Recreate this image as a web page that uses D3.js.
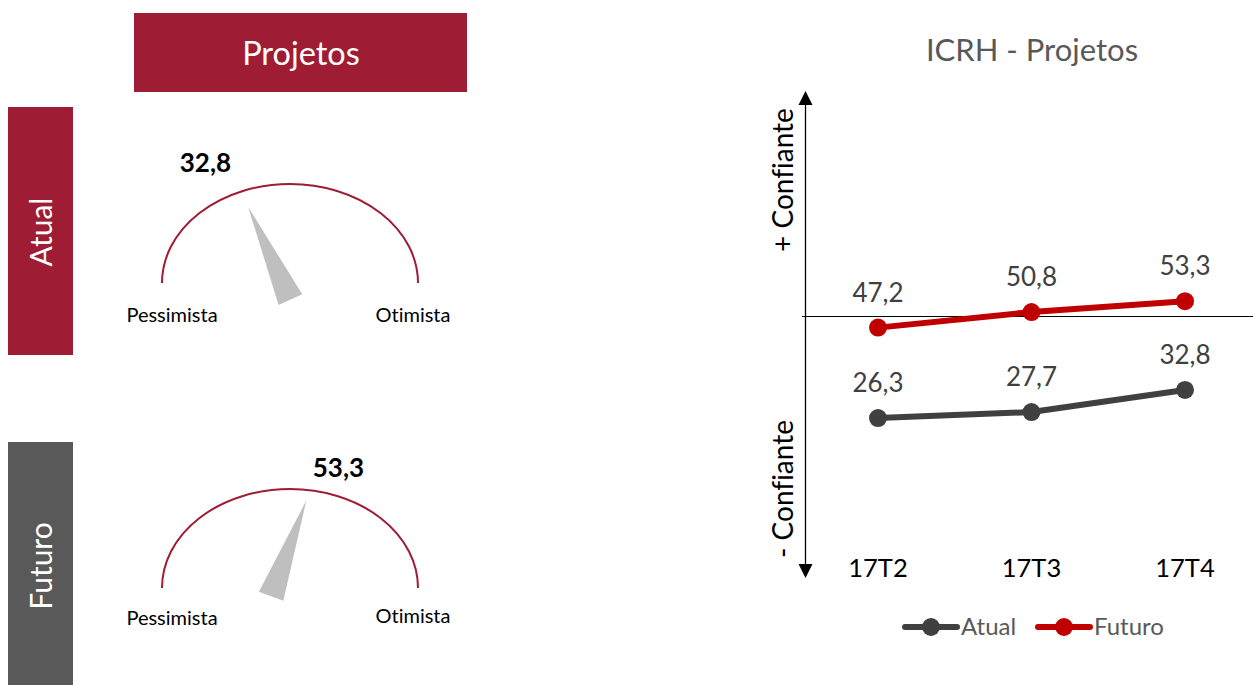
<!DOCTYPE html>
<html>
<head>
<meta charset="utf-8">
<script src="https://cdn.jsdelivr.net/npm/d3@7"></script>
<style>
  body { margin: 0; background: #ffffff; }
  svg { display: block; }
  text { font-family: Lato, "Open Sans", sans-serif; font-variant-ligatures: none; }
</style>
</head>
<body>
<svg id="chart" width="1253" height="685"></svg>
<script>
// ---- data ----
const periods = ["17T2", "17T3", "17T4"];
const atualValues = [26.3, 27.7, 32.8];
const futuroValues = [47.2, 50.8, 53.3];
const seriesNames = ["Atual", "Futuro"];
const seriesColors = ["#404040", "#C00000"];
const gaugeNames = ["Atual", "Futuro"];
const gaugeValues = [32.8, 53.3];
const gaugeEnds = ["Pessimista", "Otimista"];
const sideLabels = ["+ Confiante", "- Confiante"];
const panelTitle = "Projetos";
const chartTitle = "ICRH - Projetos";
const neutralValue = 50;

const fmt = v => d3.format(".1f")(v).replace(".", ",");
const svg = d3.select("#chart");
const wine = "#9E1C34";

// ---- left panel: header and row tabs ----
svg.append("rect").attr("x", 134).attr("y", 13).attr("width", 333).attr("height", 79).attr("fill", wine);
svg.append("text").attr("x", 301).attr("y", 65).attr("text-anchor", "middle")
  .attr("fill", "#ffffff").attr("font-size", 32.5).text(panelTitle);

const tabs = [
  { y0: 107, y1: 355, color: wine, mid: 232 },
  { y0: 442, y1: 685, color: "#595959", mid: 566 }
];
tabs.forEach((t, i) => {
  svg.append("rect").attr("x", 8).attr("y", t.y0).attr("width", 65).attr("height", t.y1 - t.y0).attr("fill", t.color);
  svg.append("text")
    .attr("transform", `translate(52,${t.mid}) rotate(-90)`)
    .attr("text-anchor", "middle").attr("fill", "#ffffff").attr("font-size", 30)
    .text(gaugeNames[i]);
});

// ---- gauges ----
// dial calibration: value -> needle angle in degrees (0 = straight up)
const needleAngle = d3.scaleLinear().domain([0, 100]).range([-96, 122]);
const gaugeCenters = [{ cx: 290, cy: 283 }, { cx: 290, cy: 588 }];
const rx = 128, ry = 99;

gaugeValues.forEach((v, i) => {
  const { cx, cy } = gaugeCenters[i];
  const g = svg.append("g");
  g.append("path")
    .attr("d", `M${cx - rx},${cy} A${rx},${ry} 0 0 1 ${cx + rx},${cy}`)
    .attr("fill", "none").attr("stroke", wine).attr("stroke-width", 2);

  const a = needleAngle(v);
  g.append("path")
    .attr("d", "M-12,-77 L1,25 L-25,25 Z")
    .attr("transform", `translate(${cx + 1},${cy - 11}) rotate(${a})`)
    .attr("fill", "#BFBFBF");

  g.append("text")
    .attr("x", cx - 12 + 175 * Math.sin(a * Math.PI / 180))
    .attr("y", cy - 111)
    .attr("text-anchor", "middle").attr("font-weight", "bold").attr("font-size", 26)
    .attr("fill", "#000000").text(fmt(v));

  g.append("text").attr("x", cx - rx + 10).attr("y", cy + 39 - i * 2)
    .attr("text-anchor", "middle").attr("font-size", 20).attr("fill", "#000000").text(gaugeEnds[0]);
  g.append("text").attr("x", cx + rx - 5).attr("y", cy + 39 - i * 4)
    .attr("text-anchor", "middle").attr("font-size", 20).attr("fill", "#000000").text(gaugeEnds[1]);
});

// ---- right panel: line chart ----
const x = d3.scalePoint().domain(periods).range([878, 1185]);
const y = d3.scaleLinear().domain([0, 100]).range([532, 99]);
const axisX = 805.5;

svg.append("text").attr("x", 1032).attr("y", 61).attr("text-anchor", "middle")
  .attr("fill", "#595959").attr("font-size", 31).text(chartTitle);

// vertical double-arrow axis
svg.append("line").attr("x1", axisX).attr("x2", axisX).attr("y1", 100).attr("y2", 570)
  .attr("stroke", "#000").attr("stroke-width", 1.3);
svg.append("path").attr("d", `M${axisX},91 L${axisX + 7},105 L${axisX - 7},105 Z`).attr("fill", "#000");
svg.append("path").attr("d", `M${axisX},578 L${axisX + 7},564 L${axisX - 7},564 Z`).attr("fill", "#000");

// neutral reference line
const yNeutral = Math.round(y(neutralValue)) + 0.5;
svg.append("line").attr("x1", 802).attr("x2", 1253).attr("y1", yNeutral).attr("y2", yNeutral)
  .attr("stroke", "#000").attr("stroke-width", 1.2);

// side labels
svg.append("text").attr("transform", "translate(793,180) rotate(-90)").attr("text-anchor", "middle")
  .attr("font-size", 28).attr("fill", "#000").text(sideLabels[0]);
svg.append("text").attr("transform", "translate(793,489) rotate(-90)").attr("text-anchor", "middle")
  .attr("font-size", 28).attr("fill", "#000").text(sideLabels[1]);

// category labels
svg.selectAll(".cat").data(periods).enter().append("text")
  .attr("x", d => x(d)).attr("y", 577).attr("text-anchor", "middle")
  .attr("font-size", 25.5).attr("fill", "#000").text(d => d);

const series = [atualValues, futuroValues];
const line = d3.line().x((d, i) => x(periods[i])).y(d => y(d));

series.forEach((vals, s) => {
  const g = svg.append("g");
  g.append("path").attr("d", line(vals)).attr("fill", "none")
    .attr("stroke", seriesColors[s]).attr("stroke-width", 6).attr("stroke-linejoin", "round");
  g.selectAll("circle").data(vals).enter().append("circle")
    .attr("cx", (d, i) => x(periods[i])).attr("cy", d => y(d)).attr("r", 9)
    .attr("fill", seriesColors[s]);
  g.selectAll("text").data(vals).enter().append("text")
    .attr("x", (d, i) => x(periods[i])).attr("y", d => y(d) - 26)
    .attr("text-anchor", "middle").attr("font-size", 26).attr("fill", "#404040")
    .text(d => fmt(d));
});

// legend
const legendItems = [{ x0: 905, tx: 961 }, { x0: 1038, tx: 1094 }];
legendItems.forEach((it, s) => {
  svg.append("line").attr("x1", it.x0).attr("x2", it.x0 + 52).attr("y1", 627).attr("y2", 627)
    .attr("stroke", seriesColors[s]).attr("stroke-width", 6).attr("stroke-linecap", "round");
  svg.append("circle").attr("cx", it.x0 + 26).attr("cy", 627).attr("r", 9).attr("fill", seriesColors[s]);
  svg.append("text").attr("x", it.tx).attr("y", 635).attr("font-size", 24)
    .attr("fill", "#595959").text(seriesNames[s]);
});
</script>
</body>
</html>
